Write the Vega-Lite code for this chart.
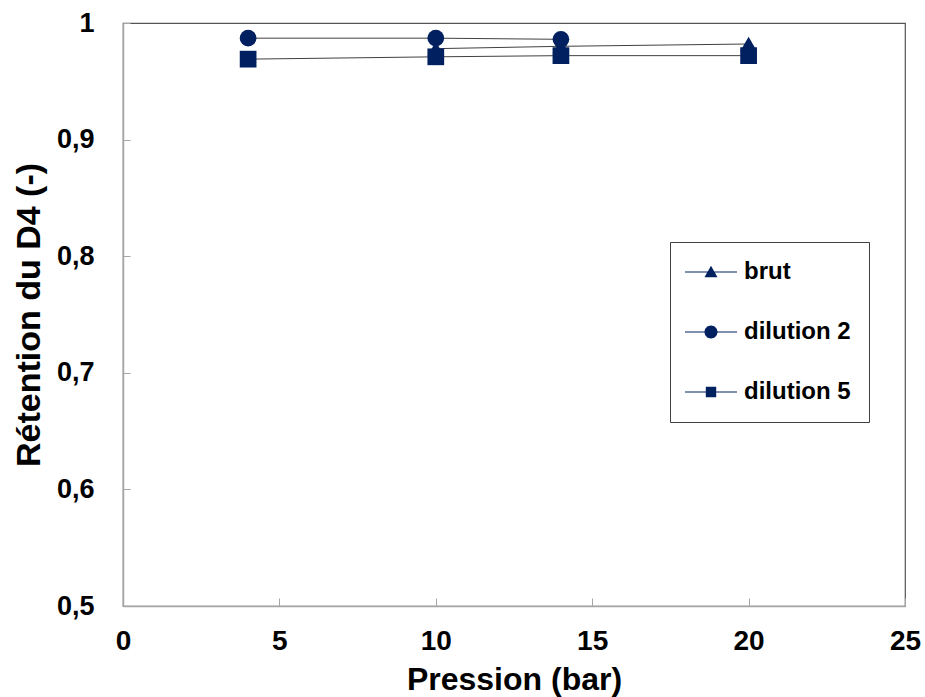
{
  "$schema": "https://vega.github.io/schema/vega-lite/v6.json",
  "autosize": "none",
  "width": 782,
  "height": 583,
  "padding": {"left": 123, "top": 23, "right": 20, "bottom": 91},
  "background": "white",
  "config": {
    "font": "Liberation Sans",
    "view": {"stroke": "#555555", "strokeWidth": 1.2},
    "axis": {
      "grid": false,
      "domainColor": "#a6a6a6",
      "domainWidth": 1.5,
      "tickColor": "#a6a6a6",
      "tickWidth": 1,
      "labelFont": "Liberation Sans",
      "labelFontWeight": "bold",
      "labelColor": "#000000",
      "titleFont": "Liberation Sans",
      "titleFontWeight": "bold",
      "titleColor": "#000000"
    }
  },
  "data": {
    "values": [
      {"pression": 10, "retention": 0.978, "serie": "brut"},
      {"pression": 14, "retention": 0.980, "serie": "brut"},
      {"pression": 20, "retention": 0.982, "serie": "brut"},
      {"pression": 4, "retention": 0.987, "serie": "dilution 2"},
      {"pression": 10, "retention": 0.987, "serie": "dilution 2"},
      {"pression": 14, "retention": 0.986, "serie": "dilution 2"},
      {"pression": 4, "retention": 0.969, "serie": "dilution 5"},
      {"pression": 10, "retention": 0.971, "serie": "dilution 5"},
      {"pression": 14, "retention": 0.972, "serie": "dilution 5"},
      {"pression": 20, "retention": 0.972, "serie": "dilution 5"}
    ]
  },
  "encoding": {
    "x": {
      "field": "pression",
      "type": "quantitative",
      "scale": {"domain": [0, 25], "nice": false},
      "axis": {
        "title": "Pression (bar)",
        "values": [0, 5, 10, 15, 20, 25],
        "labelFlush": false,
        "tickSize": -8,
        "labelPadding": 29,
        "labelFontSize": 28,
        "titleFontSize": 32,
        "titlePadding": 9
      }
    },
    "y": {
      "field": "retention",
      "type": "quantitative",
      "scale": {"domain": [0.5, 1], "nice": false, "zero": false},
      "axis": {
        "title": "Rétention du D4 (-)",
        "values": [0.5, 0.6, 0.7, 0.8, 0.9, 1],
        "labelFlush": false,
        "labelExpr": "datum.value == 1 ? '1' : replace(format(datum.value, '.1f'), '.', ',')",
        "tickSize": -7,
        "labelPadding": 36,
        "labelFontSize": 27,
        "titleFontSize": 34,
        "titlePadding": 10
      }
    }
  },
  "layer": [
    {
      "mark": {"type": "line", "stroke": "#404040", "strokeWidth": 1},
      "encoding": {
        "detail": {"field": "serie", "type": "nominal"},
        "order": {"field": "pression", "type": "quantitative"}
      }
    },
    {
      "mark": {"type": "point", "filled": true, "size": 280, "opacity": 1, "color": "#002060"},
      "encoding": {
        "shape": {
          "field": "serie",
          "type": "nominal",
          "scale": {"domain": ["brut", "dilution 2", "dilution 5"], "range": ["triangle-up", "circle", "square"]},
          "legend": null
        }
      }
    },
    {
      "transform": [{"filter": "datum.pression > 100"}],
      "mark": {"type": "point", "filled": true, "size": 169, "opacity": 1, "color": "#002060"},
      "encoding": {
        "shape": {
          "field": "serie",
          "type": "nominal",
          "scale": {
            "domain": ["brut", "dilution 2", "dilution 5"],
            "range": [
              "M-4,-0.08H4V0.08H-4ZM0,-0.95L1,0.8L-1,0.8Z",
              "M-4,-0.08H4V0.08H-4ZM-1,0A1,1,0,1,1,1,0A1,1,0,1,1,-1,0Z",
              "M-4,-0.08H4V0.08H-4ZM-0.8,-0.8H0.8V0.8H-0.8Z"
            ]
          },
          "legend": {
            "title": null,
            "orient": "none",
            "legendX": 547,
            "legendY": 219,
            "direction": "vertical",
            "padding": 18,
            "fillColor": "white",
            "strokeColor": "#404040",
            "symbolSize": 169,
            "symbolOffset": 11,
            "labelOffset": 21,
            "symbolOpacity": 1,
            "labelFont": "Liberation Sans",
            "labelFontWeight": "bold",
            "labelFontSize": 24,
            "labelColor": "#000000",
            "rowPadding": 36
          }
        }
      }
    }
  ],
  "resolve": {"scale": {"shape": "independent"}, "legend": {"shape": "independent"}}
}
